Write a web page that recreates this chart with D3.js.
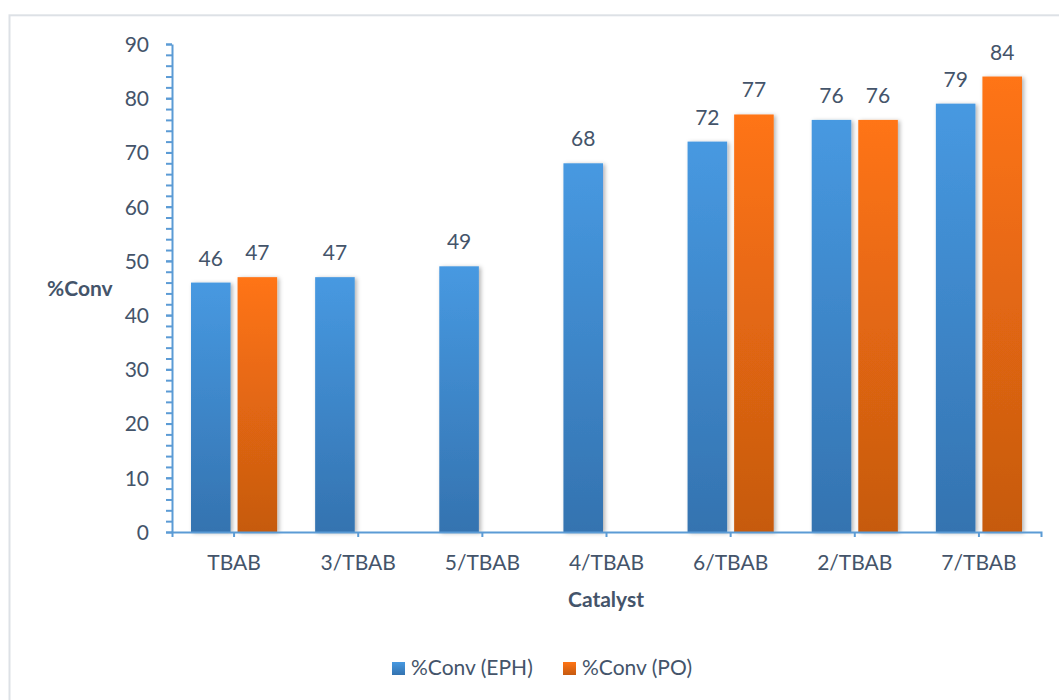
<!DOCTYPE html>
<html>
<head>
<meta charset="utf-8">
<script src="https://cdn.jsdelivr.net/npm/d3@7"></script>
<style>
    body { margin: 0; background: #fff; }
    svg text { font-family: Lato, "Open Sans", sans-serif; fill: #44546a; }
</style>
</head>
<body>
<svg id="chart" width="1059" height="700"></svg>
<script>
const categories = ['TBAB', '3/TBAB', '5/TBAB', '4/TBAB', '6/TBAB', '2/TBAB', '7/TBAB'];
const seriesNames = ['%Conv (EPH)', '%Conv (PO)'];
const convEPH = [46, 47, 49, 68, 72, 76, 79];
const convPO = [47, null, null, null, 77, 76, 84];
const yTicks = [0, 10, 20, 30, 40, 50, 60, 70, 80, 90];

const svg = d3.select('#chart');

// gradients + shadow, like the excel look
const defs = svg.append('defs');
const grads = [
    { id: 'gBlue', top: '#4799e1', bottom: '#3473b0' },
    { id: 'gOrange', top: '#ff7414', bottom: '#c65a10' }
];
grads.forEach(g => {
    const lg = defs.append('linearGradient').attr('id', g.id)
        .attr('x1', 0).attr('y1', 0).attr('x2', 0).attr('y2', 1);
    lg.append('stop').attr('offset', '0%').attr('stop-color', g.top);
    lg.append('stop').attr('offset', '100%').attr('stop-color', g.bottom);
});
defs.append('filter').attr('id', 'shadow')
    .attr('x', '-20%').attr('y', '-20%').attr('width', '150%').attr('height', '150%')
    .append('feDropShadow')
    .attr('dx', 2).attr('dy', 1).attr('stdDeviation', 2)
    .attr('flood-color', '#000').attr('flood-opacity', 0.3);

// chart area border
svg.append('rect')
    .attr('x', 9.5).attr('y', 15.3)
    .attr('width', 1200).attr('height', 900)
    .attr('fill', 'none')
    .attr('stroke', '#dde1e6')
    .attr('stroke-width', 2);

const x0 = d3.scaleBand().domain(categories).range([172, 1041]);
const x1 = d3.scaleBand().domain(seriesNames)
    .range([19, x0.bandwidth() - 19]).paddingInner(0.15);
const y = d3.scaleLinear().domain([0, 90]).range([532, 44]);
const color = d3.scaleOrdinal().domain(seriesNames).range(['url(#gBlue)', 'url(#gOrange)']);

const rows = categories.map((c, i) => ({
    cat: c,
    values: [
        { key: seriesNames[0], v: convEPH[i] },
        { key: seriesNames[1], v: convPO[i] }
    ].filter(d => d.v != null)
}));

// bars
const groups = svg.append('g').selectAll('g')
    .data(rows)
    .enter()
    .append('g')
    .attr('transform', d => `translate(${x0(d.cat)},0)`);

groups.selectAll('rect')
    .data(d => d.values)
    .enter()
    .append('rect')
    .attr('x', d => x1(d.key))
    .attr('y', d => y(d.v))
    .attr('width', x1.bandwidth())
    .attr('height', d => y(0) - y(d.v))
    .attr('fill', d => color(d.key))
    .attr('filter', 'url(#shadow)');

groups.selectAll('text')
    .data(d => d.values)
    .enter()
    .append('text')
    .attr('x', d => x1(d.key) + x1.bandwidth() / 2)
    .attr('y', d => y(d.v) - 17)
    .attr('text-anchor', 'middle')
    .style('font-size', '21px')
    .text(d => d.v);

// y axis with minor ticks every 2
const yMinor = svg.append('g').attr('transform', 'translate(172,0)')
    .call(d3.axisLeft(y).tickValues(d3.range(0, 91, 2)).tickSize(6).tickFormat(''));
yMinor.select('.domain').remove();
yMinor.selectAll('line').attr('stroke', '#5b9bd5').attr('stroke-width', 2);

const yAxis = svg.append('g').attr('transform', 'translate(172,0)')
    .call(d3.axisLeft(y).tickValues(yTicks).tickSize(6).tickSizeOuter(0).tickPadding(17));
yAxis.select('.domain').attr('stroke', '#5b9bd5').attr('stroke-width', 2);
yAxis.selectAll('line').attr('stroke', '#5b9bd5').attr('stroke-width', 2);
yAxis.selectAll('text').style('font-size', '21px').attr('dy', '0.35em');

// x axis
const xAxis = svg.append('g').attr('transform', 'translate(0,532)')
    .call(d3.axisBottom(x0).tickSize(5).tickSizeOuter(5).tickPadding(18));
xAxis.select('.domain').attr('stroke', '#5b9bd5').attr('stroke-width', 2);
xAxis.selectAll('line').attr('stroke', '#5b9bd5').attr('stroke-width', 2);
xAxis.selectAll('text').style('font-size', '21px');

// axis titles
svg.append('text')
    .attr('x', 47).attr('y', 296)
    .style('font-size', '21px').style('font-weight', 'bold')
    .text('%Conv');
svg.append('text')
    .attr('x', 606).attr('y', 607)
    .attr('text-anchor', 'middle')
    .style('font-size', '21px').style('font-weight', 'bold')
    .text('Catalyst');

// legend
const legendItems = [
    { key: seriesNames[0], x: 392 },
    { key: seriesNames[1], x: 563 }
];
const legend = svg.append('g').selectAll('g')
    .data(legendItems)
    .enter()
    .append('g')
    .attr('transform', d => `translate(${d.x},662)`);
legend.append('rect')
    .attr('width', 13).attr('height', 13)
    .attr('fill', d => color(d.key));
legend.append('text')
    .attr('x', 19).attr('y', 13)
    .style('font-size', '21px')
    .text(d => d.key);
</script>
</body>
</html>
